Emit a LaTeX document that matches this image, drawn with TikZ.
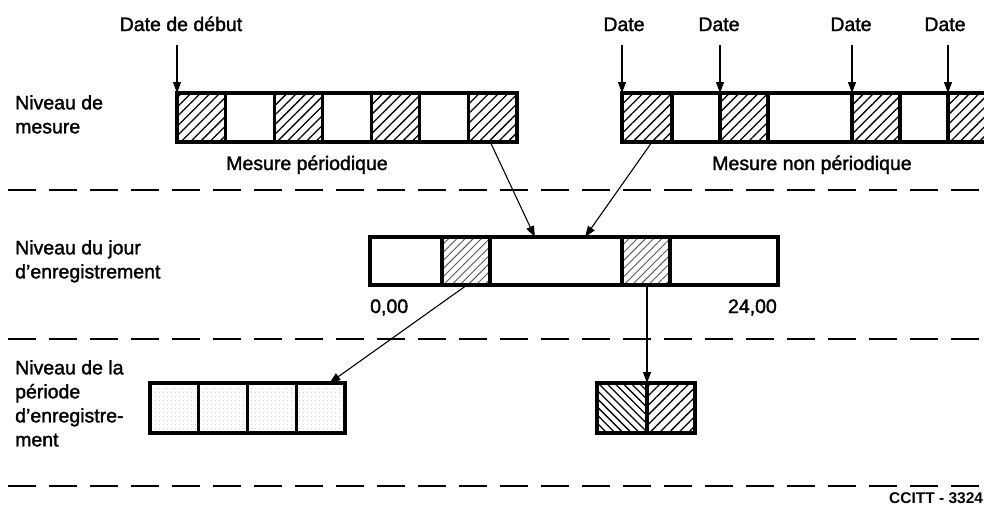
\documentclass[tikz,border=0pt]{standalone}
\usepackage{fontspec}
\setmainfont{Liberation Sans}[BoldFont={Liberation Sans},BoldFeatures={FakeBold=1.6}]
\newfontfamily\tagfont{Liberation Sans}[UprightFont={Liberation Sans Bold}]
\usetikzlibrary{patterns.meta,arrows.meta,calc}

\begin{document}
\begin{tikzpicture}[x=1pt,y=-1pt,
  lbl/.style={inner sep=0pt,font=\fontsize{19.5}{24}\selectfont\bfseries},
  side/.style={lbl,align=left,anchor=north west},
  cell/.style={draw,line width=3.2pt,anchor=north west,inner sep=0pt,outer sep=0pt,
               minimum height=49pt},
  plain/.style={fill=white},
  hatch/.style={pattern={Lines[angle=45,distance=6.8pt,line width=1.3pt]}},
  hatchlight/.style={pattern={Lines[angle=45,distance=5.8pt,line width=0.9pt]},pattern color=black!65},
  hatchback/.style={pattern={Lines[angle=-45,distance=5.8pt,line width=1.3pt]}},
  speckle/.style={pattern={Dots[distance=4pt,radius=0.45pt]},pattern color=black!40},
  arr/.style={line width=1.1pt,-{Triangle[length=11pt,width=8pt]}},
  level/.style={line width=1.4pt,dash pattern=on 28pt off 13pt},
]
\useasboundingbox (0,0) rectangle (984,515);
\clip (0,0) rectangle (984,515);

% level separators
\draw[level] (8,190) -- (984,190);
\draw[level] (8,339) -- (984,339);
\draw[level] (8,486) -- (984,486);

% level names
\node[side] (lv1) at (15,95) {Niveau de\\mesure};
\node[side] (lv2) at (15,240) {Niveau du jour\\d’enregistrement};
\node[side] (lv3) at (15,360) {Niveau de la\\période\\d’enregistre-\\ment};

% periodic measurement
\node[cell,hatch,minimum width=48.57pt] (m1) at (177,93) {};
\node[cell,plain,minimum width=48.57pt] (m2) at (225.57,93) {};
\node[cell,hatch,minimum width=48.57pt] (m3) at (274.14,93) {};
\node[cell,plain,minimum width=48.57pt] (m4) at (322.71,93) {};
\node[cell,hatch,minimum width=48.57pt] (m5) at (371.29,93) {};
\node[cell,plain,minimum width=48.57pt] (m6) at (419.86,93) {};
\node[cell,hatch,minimum width=48.57pt] (m7) at (468.43,93) {};

% non-periodic measurement
\node[cell,hatch,minimum width=50pt] (r1) at (622,93) {};
\node[cell,plain,minimum width=48pt] (r2) at (672,93) {};
\node[cell,hatch,minimum width=48pt] (r3) at (720,93) {};
\node[cell,plain,minimum width=84pt] (r4) at (768,93) {};
\node[cell,hatch,minimum width=48pt] (r5) at (852,93) {};
\node[cell,plain,minimum width=48pt] (r6) at (900,93) {};
\node[cell,hatch,minimum width=50pt] (r7) at (948,93) {};

% date labels and their arrows
\node[lbl,anchor=base] (dd) at (181,31) {Date de début};
\node[lbl,anchor=base] (d1) at (624,31) {Date};
\node[lbl,anchor=base] (d2) at (719,31) {Date};
\node[lbl,anchor=base] (d3) at (851,31) {Date};
\node[lbl,anchor=base] (d4) at (945,31) {Date};
\coordinate (t0) at (177,45);
\coordinate (t1) at (622,45);
\coordinate (t2) at (720,45);
\coordinate (t3) at (852,45);
\coordinate (t4) at (948,45);
\draw[arr] (t0) -- (m1.north west);
\draw[arr] (t1) -- (r1.north west);
\draw[arr] (t2) -- (r3.north west);
\draw[arr] (t3) -- (r5.north west);
\draw[arr] (t4) -- (r7.north west);

\node[lbl,anchor=base] (mp) at (307,170) {Mesure périodique};
\node[lbl,anchor=base] (mnp) at (812,170) {Mesure non périodique};

% recording day
\node[cell,plain,minimum width=72pt,minimum height=48pt] (j1) at (370,237) {};
\node[cell,hatchlight,minimum width=48pt,minimum height=48pt] (j2) at (442,237) {};
\node[cell,plain,minimum width=132pt,minimum height=48pt] (j3) at (490,237) {};
\node[cell,hatchlight,minimum width=48pt,minimum height=48pt] (j4) at (622,237) {};
\node[cell,plain,minimum width=108pt,minimum height=48pt] (j5) at (670,237) {};
\node[lbl,anchor=base west] (h0) at (370,313) {0,00};
\node[lbl,anchor=base east] (h24) at (777,313) {24,00};

% recording period
\node[cell,speckle,minimum width=48.75pt,minimum height=50pt] (p1) at (150,383) {};
\node[cell,speckle,minimum width=48.75pt,minimum height=50pt] (p2) at (198.75,383) {};
\node[cell,speckle,minimum width=48.75pt,minimum height=50pt] (p3) at (247.5,383) {};
\node[cell,speckle,minimum width=48.75pt,minimum height=50pt] (p4) at (296.25,383) {};
\node[cell,hatchback,minimum width=50pt,minimum height=50pt] (q1) at (597,383) {};
\node[cell,hatch,minimum width=48pt,minimum height=50pt] (q2) at (647,383) {};

% transfers between levels
\draw[arr] ($(m7.south west)!0.45!(m7.south east)$) -- ($(j3.north west)!0.34!(j3.north east)$);
\draw[arr] ($(r1.south west)!0.6!(r1.south east)$) -- ($(j3.north west)!0.72!(j3.north east)$);
\draw[arr] ($(j2.south west)!0.52!(j2.south east)$) -- ($(p4.north west)!0.68!(p4.north east)$);
\draw[arr] (j4.south east -| q1.north east) -- (q1.north east);

\node[inner sep=0pt,anchor=base west,font=\fontsize{15.5}{15.5}\selectfont\tagfont] (ref) at (889,503) {CCITT - 3324};
\end{tikzpicture}
\end{document}
